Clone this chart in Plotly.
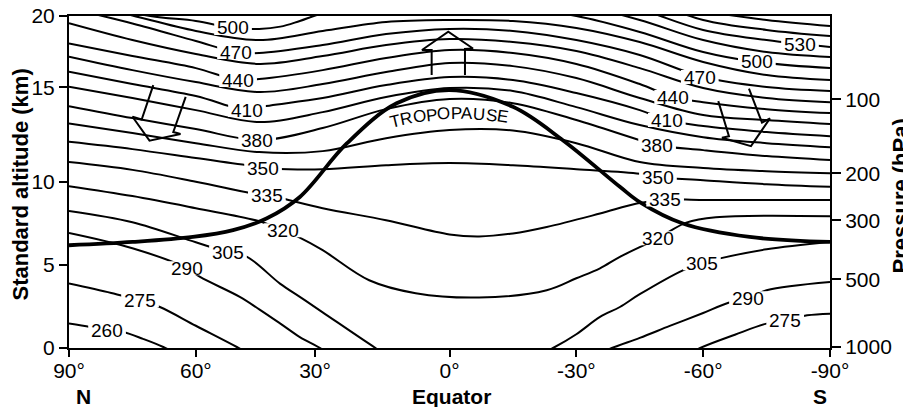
import math
import plotly.graph_objects as go

# ---------------- data ----------------
grid_lat = [90, 75, 60, 45, 30, 15, 0, -15, -30, -45, -60, -75, -90]

# potential temperature surfaces (K) -> altitude (km) at grid_lat
alt_350 = [12.42, 11.98, 11.44, 10.90, 10.77, 11.01, 11.14, 11.01, 10.77, 10.50, 10.11, 9.87, 9.71]
alt_365 = [13.53, 12.95, 12.34, 11.80, 11.86, 12.64, 13.13, 13.10, 12.34, 11.20, 10.84, 10.65, 10.53]
alt_380 = [14.57, 13.85, 13.19, 12.52, 13.25, 14.39, 15.00, 14.75, 13.73, 12.52, 11.92, 11.56, 11.32]
alt_395 = [15.74, 15.06, 14.33, 13.61, 14.21, 15.12, 15.66, 15.48, 14.51, 13.43, 12.70, 12.34, 12.10]
alt_410 = [16.64, 15.90, 15.18, 14.51, 15.06, 15.84, 16.32, 16.14, 15.36, 14.33, 13.37, 13.01, 12.76]
alt_425 = [17.55, 16.74, 16.02, 15.42, 15.90, 16.62, 17.17, 16.98, 16.26, 15.06, 14.03, 13.73, 13.49]
alt_440 = [18.35, 17.59, 16.86, 16.20, 16.74, 17.47, 17.95, 17.77, 17.11, 15.90, 14.81, 14.39, 14.15]
alt_455 = [19.56, 18.55, 17.71, 17.11, 17.59, 18.25, 18.61, 18.43, 17.89, 16.86, 15.66, 15.06, 14.81]
alt_470 = [20.48, 19.55, 18.49, 17.77, 18.25, 18.91, 19.22, 19.10, 18.55, 17.65, 16.32, 15.72, 15.48]
alt_485 = [21.00, 20.03, 19.10, 18.55, 19.10, 19.64, 19.76, 19.70, 19.28, 18.43, 17.23, 16.44, 16.14]

lat_500 = [90, 70.8, 60, 51.2, 45, 40, 35.4, 30, 15, 0, -15, -30, -45, -60, -72.7, -90]
alt_500 = [21.0, 20.0, 19.70, 19.28, 19.22, 19.36, 19.70, 20.15, 20.5, 20.6, 20.5, 20.0, 19.04, 17.83, 17.23, 16.86]
lat_515 = [15, 0, -15, -30, -45, -60, -75, -90]
alt_515 = [21.27, 21.45, 21.27, 20.72, 19.76, 18.55, 17.83, 17.53]
lat_530 = [-15, -30, -45, -60, -75, -90]
alt_530 = [21.87, 21.45, 20.42, 19.16, 18.55, 18.13]
lat_545 = [-30, -45, -60, -75, -90]
alt_545 = [22.17, 21.09, 19.76, 19.16, 18.79]
lat_560 = [-45, -60, -75, -90]
alt_560 = [21.69, 20.36, 19.76, 19.40]

lat_335 = [90, 75, 60, 45, 30, 15, 0, -7, -15, -23, -35.6, -44.3, -60, -90]
alt_335 = [11.20, 10.73, 10.02, 9.24, 8.42, 7.70, 6.84, 6.72, 6.90, 7.29, 8.10, 8.70, 8.91, 8.91]
lat_320 = [90, 75, 60, 45, 36, 30, 19, 8, -7, -23, -30, -35.6, -40.3, -56, -63, -90]
alt_320 = [9.75, 9.15, 8.42, 7.64, 6.72, 5.89, 4.08, 3.30, 3.04, 3.48, 4.20, 4.80, 5.49, 7.55, 7.88, 7.94]
lat_305_n = [90, 75, 60, 47.9, 40.1, 35.4, 30, 17.5, 10]
alt_305_n = [8.26, 7.58, 6.37, 5.49, 3.88, 3.08, 2.15, 0.0, -1.2]
lat_305_s = [-14, -24.5, -30, -35.6, -40.3, -45, -55.2, -64, -75, -90]
alt_305_s = [-1.3, 0.0, 0.83, 1.87, 2.47, 3.24, 4.68, 5.40, 5.95, 6.39]
lat_290_n = [90, 75, 59, 49.6, 45, 40, 35.4, 30.6, 25]
alt_290_n = [6.93, 6.01, 4.28, 3.08, 2.33, 1.47, 0.66, 0.0, -0.9]
lat_290_s = [-33, -38.4, -45, -52.1, -60, -65.5, -75, -90]
alt_290_s = [-0.6, 0.0, 0.61, 1.33, 2.11, 2.68, 3.48, 3.98]
lat_275_n = [90, 80, 68.5, 60, 50.3, 45]
alt_275_n = [3.88, 3.31, 2.47, 1.34, 0.06, -0.7]
lat_275_s = [-54, -59.3, -67.5, -75, -84.6, -90]
alt_275_s = [-0.7, 0.0, 0.80, 1.47, 1.97, 2.07]
lat_260 = [90, 85, 77.2, 72.5, 67.7, 62]
alt_260 = [1.47, 1.27, 0.96, 0.55, 0.06, -0.7]

trop_lat = [90, 74.9, 60.7, 51.2, 43.3, 35.4, 24.3, 12.5, 0, -15, -26.8, -40.3, -45, -55.2, -71, -90]
trop_alt = [6.19, 6.39, 6.69, 7.10, 7.80, 9.10, 12.32, 14.74, 15.54, 14.53, 12.52, 9.71, 8.79, 7.50, 6.69, 6.39]

# contour labels
label_theta_n = [500, 470, 440, 410, 380, 350, 335, 320, 305, 290, 275, 260]
label_lat_n = [51.2, 50.5, 50.0, 47.9, 45.5, 44.1, 43.2, 39.4, 52.4, 62.1, 73.2, 81.0]
label_alt_n = [19.28, 17.83, 16.14, 14.33, 12.52, 10.84, 9.21, 7.10, 5.77, 4.81, 2.88, 1.08]
label_theta_s = [530, 500, 470, 440, 410, 380, 350, 335, 320, 305, 290, 275]
label_lat_s = [-82.9, -72.7, -59.2, -52.9, -51.4, -49.1, -49.3, -51.0, -49.3, -59.7, -70.6, -79.4]
label_alt_s = [18.31, 17.23, 16.32, 15.12, 13.73, 12.22, 10.29, 8.95, 6.61, 5.11, 3.00, 1.65]

# exchange arrows (outline vertices, lat / km)
arrow_n_lat = [70.06, 72.81, 74.98, 70.96, 63.63, 65.33, 62.40]
arrow_n_alt = [15.84, 13.76, 13.93, 12.49, 12.89, 13.01, 15.13]
arrow_eq_lat = [4.22, 4.22, 6.51, 0.29, -5.55, -3.66, -3.66]
arrow_eq_alt = [16.44, 17.95, 17.95, 19.05, 18.04, 18.01, 16.44]
arrow_s_lat = [-63.57, -66.10, -64.45, -71.31, -75.80, -73.91, -70.83]
arrow_s_alt = [14.87, 12.76, 12.67, 12.16, 13.83, 13.58, 15.63]

# axes
x_tick_vals = [90, 60, 31.8, 0, -30, -60, -90]
x_tick_text = ["90°", "60°", "30°", "0°", "-30°", "-60°", "-90°"]
y_tick_vals = [0, 5, 10, 15.7, 20]
y_tick_text = ["0", "5", "10", "15", "20"]
p_tick_alt = [14.98, 10.52, 7.70, 4.14, 0.06]
p_tick_text = ["100", "200", "300", "500", "1000"]

# ---------------- layout geometry (page pixels) ----------------
BODY = 8                      # default page margin around the figure div
PAGE_W, PAGE_H = 911, 407
PL, PT, PR, PB = 69, 16, 830, 348   # plot area on the page
W, H = PAGE_W - BODY, PAGE_H - BODY
ML, MT = PL - BODY, PT - BODY
MR, MB = W - (PR - BODY), H - (PB - BODY)
PW, PH = PR - PL, PB - PT
DEG_PER_PX = 180.0 / PW
KM_PER_PX = 20.0 / PH
FONT = "Liberation Sans, Arial, Helvetica, sans-serif"

def px_lat(x):
    return 90 - (x - PL) * DEG_PER_PX

def px_alt(y):
    return 20 - (y - PT) * KM_PER_PX

def paper_x(x):
    return (x - PL) / PW

def paper_y(y):
    return (PB - y) / PH

segments = [
    (350, grid_lat, alt_350), (365, grid_lat, alt_365), (380, grid_lat, alt_380),
    (395, grid_lat, alt_395), (410, grid_lat, alt_410), (425, grid_lat, alt_425),
    (440, grid_lat, alt_440), (455, grid_lat, alt_455), (470, grid_lat, alt_470),
    (485, grid_lat, alt_485), (500, lat_500, alt_500), (515, lat_515, alt_515),
    (530, lat_530, alt_530), (545, lat_545, alt_545), (560, lat_560, alt_560),
    (335, lat_335, alt_335), (320, lat_320, alt_320),
    (305, lat_305_n, alt_305_n), (305, lat_305_s, alt_305_s),
    (290, lat_290_n, alt_290_n), (290, lat_290_s, alt_290_s),
    (275, lat_275_n, alt_275_n), (275, lat_275_s, alt_275_s),
    (260, lat_260, alt_260),
]

labels = list(zip(label_theta_n, label_lat_n, label_alt_n)) + \
         list(zip(label_theta_s, label_lat_s, label_alt_s))

def merged(theta, lats, alts):
    pts = list(zip(lats, alts))
    lo, hi = min(lats), max(lats)
    for t, la, al in labels:
        if t == theta and lo < la < hi and all(abs(la - p[0]) > 0.8 for p in pts):
            pts.append((la, al))
    pts.sort(key=lambda p: -p[0])
    return [p[0] for p in pts], [p[1] for p in pts]

fig = go.Figure()

for theta, lats, alts in segments:
    xs, ys = merged(theta, lats, alts)
    fig.add_trace(go.Scatter(x=xs, y=ys, mode="lines",
                             line=dict(color="black", width=2, shape="spline", smoothing=1.0),
                             hoverinfo="skip", showlegend=False))

# tropopause (on the pressure axis, which shares the same scale)
fig.add_trace(go.Scatter(x=trop_lat, y=trop_alt, mode="lines", yaxis="y2",
                         line=dict(color="black", width=3.8, shape="spline", smoothing=1.0),
                         hoverinfo="skip", showlegend=False))

for la, al in [(arrow_n_lat, arrow_n_alt), (arrow_eq_lat, arrow_eq_alt), (arrow_s_lat, arrow_s_alt)]:
    fig.add_trace(go.Scatter(x=la, y=al, mode="lines",
                             line=dict(color="black", width=2),
                             hoverinfo="skip", showlegend=False))

shapes = []
annotations = []
LFS = 19
for t, la, al in labels:
    txt = str(t)
    wpx = len(txt) * 0.556 * LFS + 6
    hpx = 14
    shapes.append(dict(type="rect", xref="x", yref="y",
                       x0=la + wpx / 2 * DEG_PER_PX, x1=la - wpx / 2 * DEG_PER_PX,
                       y0=al - hpx / 2 * KM_PER_PX, y1=al + hpx / 2 * KM_PER_PX,
                       fillcolor="white", line=dict(width=0), layer="above"))
    annotations.append(dict(x=la, y=al, xref="x", yref="y", text=txt, showarrow=False,
                            xanchor="center", yanchor="middle",
                            font=dict(family=FONT, size=LFS, color="black")))

# curved "TROPOPAUSE" label
tword = "TROPOPAUSE"
em = {"T": .611, "R": .722, "O": .778, "P": .667, "A": .667, "U": .722, "S": .667, "E": .667}
TFS = 17
total = sum(em[c] for c in tword) * TFS
cx, apex_x, apex_y, curv = 449.0, 460.0, 113.5, 0.00186
pos = cx - total / 2
for c in tword:
    w = em[c] * TFS
    xc = pos + w / 2
    pos += w
    yc = apex_y + curv * (xc - apex_x) ** 2
    ang = math.degrees(math.atan(2 * curv * (xc - apex_x)))
    annotations.append(dict(x=px_lat(xc), y=px_alt(yc), xref="x", yref="y", text=c,
                            showarrow=False, xanchor="center", yanchor="middle", textangle=ang,
                            font=dict(family=FONT, size=TFS, color="black")))

# axis titles & region names
annotations.append(dict(x=paper_x(19.5), y=paper_y(185), xref="paper", yref="paper",
                        text="<b>Standard altitude (km)</b>", textangle=-90, showarrow=False,
                        xanchor="center", yanchor="middle",
                        font=dict(family=FONT, size=22, color="black")))
annotations.append(dict(x=paper_x(899.5), y=paper_y(196), xref="paper", yref="paper",
                        text="<b>Pressure (hPa)</b>", textangle=-90, showarrow=False,
                        xanchor="center", yanchor="middle",
                        font=dict(family=FONT, size=22, color="black")))
for txt, xp in [("N", 83), ("Equator", 451), ("S", 820)]:
    annotations.append(dict(x=px_lat(xp), y=paper_y(396), xref="x", yref="paper",
                            text="<b>%s</b>" % txt, showarrow=False,
                            xanchor="center", yanchor="middle",
                            font=dict(family=FONT, size=21, color="black")))

axis_common = dict(showgrid=False, zeroline=False, automargin=False, tickcolor="black",
                   tickwidth=1.5, ticks="outside", ticklabeloverflow="allow",
                   tickfont=dict(family=FONT, size=21, color="black"))

fig.update_layout(
    template="none",
    width=W, height=H, autosize=False,
    margin=dict(l=ML, r=MR, t=MT, b=MB, pad=0, autoexpand=False),
    paper_bgcolor="white", plot_bgcolor="white",
    showlegend=False,
    font=dict(family=FONT, size=21, color="black"),
    xaxis=dict(range=[90, -90], tickmode="array", tickvals=x_tick_vals, ticktext=x_tick_text,
               showline=True, mirror=True, linecolor="black", linewidth=2, ticklen=7,
               ticklabelstandoff=-4, **axis_common),
    yaxis=dict(range=[0, 20], tickmode="array", tickvals=y_tick_vals, ticktext=y_tick_text,
               showline=True, mirror=True, linecolor="black", linewidth=2, ticklen=8,
               **axis_common),
    yaxis2=dict(range=[0, 20], overlaying="y", side="right", tickmode="array",
                tickvals=p_tick_alt, ticktext=p_tick_text, showline=False, ticklen=10,
                **axis_common),
    shapes=shapes,
    annotations=annotations,
)

fig.write_html("out.html")
